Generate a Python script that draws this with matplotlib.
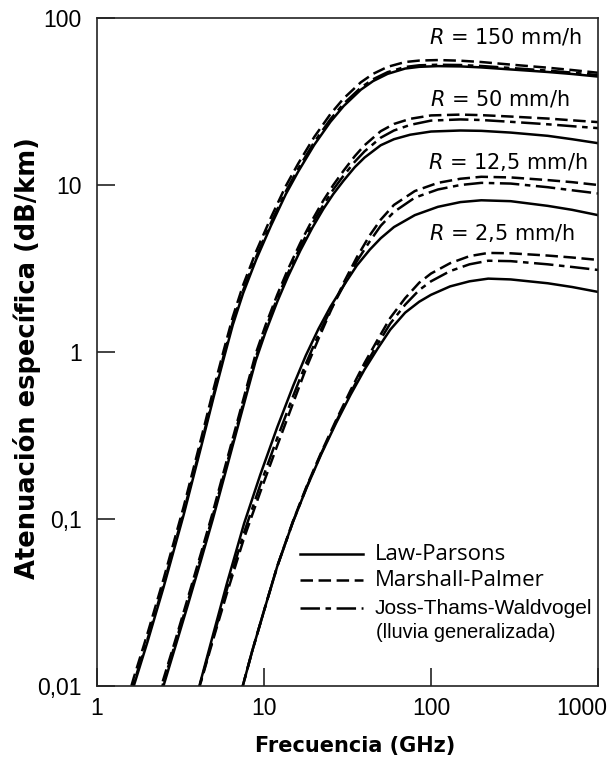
import matplotlib
matplotlib.use("Agg")
import matplotlib.pyplot as plt
from matplotlib.ticker import FixedLocator, FixedFormatter, NullLocator
from matplotlib.transforms import ScaledTranslation

plt.rcParams['lines.scale_dashes'] = False

# ---------------- data ----------------
rain_labels = ["150", "50", "12,5", "2,5"]

# R = 150 mm/h
f150 = [1.5, 1.66, 2, 2.5, 3.3, 4.2, 5.0, 5.75, 6.5, 7.5, 9, 11, 13.5, 16, 20, 25, 30, 38, 45, 55, 70, 85, 110, 150, 200, 300, 500, 700, 1000]
lp150 = [0.0070, 0.010, 0.0182, 0.0388, 0.1055, 0.270, 0.54, 0.92, 1.45, 2.25, 3.6, 5.7, 8.8, 12.0, 17.4, 23.9, 29.7, 37.2, 41.9, 46.3, 49.8, 51.0, 51.5, 51.3, 50.6, 49.2, 47.5, 46.2, 44.6]
mp150 = [0.0079, 0.0112, 0.0204, 0.0435, 0.118, 0.302, 0.605, 1.03, 1.62, 2.52, 4.03, 6.38, 9.85, 13.4, 19.4, 26.6, 33.0, 41.2, 46.3, 51.0, 54.5, 55.6, 56.0, 55.5, 54.5, 52.6, 50.4, 48.8, 47.0]
jtw150 = [0.0073, 0.0104, 0.0189, 0.0404, 0.110, 0.281, 0.56, 0.96, 1.51, 2.34, 3.74, 5.93, 9.15, 12.5, 18.1, 24.8, 30.7, 38.3, 43.0, 47.4, 50.9, 52.1, 52.5, 52.3, 51.6, 50.2, 48.4, 47.1, 45.5]

# R = 50 mm/h
f50 = [2.3, 2.5, 3, 3.5, 4.2, 4.94, 6, 7.2, 8.93, 10.2, 12, 13.9, 16.5, 19.5, 22.7, 26, 30, 35, 40, 50, 60, 75, 100, 150, 200, 300, 500, 700, 1000]
lp50 = [0.0076, 0.010, 0.0183, 0.0306, 0.0569, 0.100, 0.205, 0.403, 0.89, 1.31, 2.0, 2.82, 4.05, 5.56, 7.2, 8.83, 10.64, 12.8, 14.6, 17.3, 18.8, 20.0, 20.9, 21.2, 21.1, 20.6, 19.7, 18.8, 17.8]
mp50 = [0.0084, 0.011, 0.020, 0.0337, 0.0626, 0.110, 0.226, 0.443, 0.98, 1.44, 2.2, 3.12, 4.5, 6.2, 8.1, 10.0, 12.2, 14.9, 17.3, 21.0, 23.2, 24.9, 26.1, 26.4, 26.2, 25.7, 25.0, 24.4, 23.8]
jtw50 = [0.0080, 0.0105, 0.0192, 0.0321, 0.0597, 0.105, 0.215, 0.423, 0.93, 1.37, 2.1, 2.96, 4.27, 5.88, 7.6, 9.4, 11.4, 13.8, 15.9, 19.2, 21.2, 22.9, 24.3, 24.7, 24.5, 23.9, 23.1, 22.5, 21.9]

# R = 12,5 mm/h
f12 = [3.8, 4.1, 5, 6, 7.6, 9.5, 12, 15, 17.8, 21.2, 25, 30, 36, 43, 50, 60, 80, 110, 150, 200, 300, 500, 700, 1000]
lp12 = [0.0075, 0.010, 0.021, 0.0412, 0.094, 0.184, 0.354, 0.632, 0.953, 1.376, 1.867, 2.50, 3.3, 4.1, 4.8, 5.6, 6.6, 7.4, 7.9, 8.1, 8.0, 7.5, 7.1, 6.6]
mp12 = [0.0074, 0.0098, 0.0195, 0.036, 0.077, 0.145, 0.275, 0.50, 0.79, 1.2, 1.75, 2.6, 3.7, 5.0, 6.2, 7.6, 9.2, 10.3, 10.9, 11.2, 11.1, 10.7, 10.4, 10.0]
jtw12 = [0.0075, 0.0099, 0.020, 0.038, 0.083, 0.16, 0.305, 0.55, 0.85, 1.27, 1.78, 2.5, 3.5, 4.6, 5.7, 6.9, 8.4, 9.4, 10.0, 10.3, 10.2, 9.7, 9.3, 8.9]

# R = 2,5 mm/h
f2 = [7.0, 7.46, 8.5, 10, 12, 14.9, 18, 22, 27, 33, 40, 47.8, 57, 70, 85, 100, 130, 170, 220, 300, 500, 700, 1000]
lp2 = [0.0078, 0.010, 0.0162, 0.0282, 0.052, 0.096, 0.154, 0.244, 0.375, 0.555, 0.785, 1.044, 1.36, 1.72, 2.0, 2.2, 2.47, 2.65, 2.75, 2.72, 2.58, 2.45, 2.29]
mp2 = [0.0078, 0.010, 0.0162, 0.0282, 0.052, 0.097, 0.157, 0.25, 0.39, 0.59, 0.86, 1.18, 1.6, 2.1, 2.6, 2.95, 3.4, 3.75, 3.92, 3.9, 3.78, 3.68, 3.56]
jtw2 = [0.0078, 0.010, 0.0162, 0.0282, 0.052, 0.096, 0.155, 0.247, 0.382, 0.57, 0.82, 1.11, 1.48, 1.92, 2.35, 2.65, 3.05, 3.35, 3.52, 3.5, 3.35, 3.23, 3.1]

x_ticks = [1, 10, 100, 1000]
x_tick_labels = ["1", "10", "100", "1000"]
y_ticks = [0.01, 0.1, 1, 10, 100]
y_tick_labels = ["0,01", "0,1", "1", "10", "100"]

legend_labels = ["Law-Parsons", "Marshall-Palmer", "Joss-Thams-Waldvogel"]
legend_note = "(lluvia generalizada)"

# ---------------- styles ----------------
LW = 1.8
ls_lp = '-'
ls_mp = (0, (9, 4))
ls_jtw = (0, (14, 4, 4, 4))

W, H = 616, 757
fig = plt.figure(figsize=(W / 100, H / 100), dpi=100)
ax = fig.add_axes([97 / W, 1 - 686 / H, 501 / W, 668 / H])
ax.set_xscale('log')
ax.set_yscale('log')
ax.set_xlim(1, 1000)
ax.set_ylim(0.01, 100)

groups = [(f150, lp150, mp150, jtw150), (f50, lp50, mp50, jtw50),
          (f12, lp12, mp12, jtw12), (f2, lp2, mp2, jtw2)]
for f, lp, mp, jt in groups:
    ax.plot(f, lp, color='black', lw=LW, linestyle=ls_lp, solid_joinstyle='round')
    ax.plot(f, mp, color='black', lw=LW, linestyle=ls_mp, dash_capstyle='butt')
    ax.plot(f, jt, color='black', lw=LW, linestyle=ls_jtw, dash_capstyle='butt')

# ticks
ax.xaxis.set_major_locator(FixedLocator(x_ticks))
ax.xaxis.set_major_formatter(FixedFormatter(x_tick_labels))
ax.yaxis.set_major_locator(FixedLocator(y_ticks))
ax.yaxis.set_major_formatter(FixedFormatter(y_tick_labels))
ax.xaxis.set_minor_locator(NullLocator())
ax.yaxis.set_minor_locator(NullLocator())
ax.tick_params(which='major', direction='in', length=13, width=1.2, color='#222222')
ax.tick_params(axis='x', pad=8, labelsize=16.5)
ax.tick_params(axis='y', pad=11, labelsize=16.5)
for lab in ax.get_xticklabels() + ax.get_yticklabels():
    lab.set_fontfamily('Liberation Sans')
last = ax.get_xticklabels()[-1]
last.set_transform(last.get_transform() + ScaledTranslation(-0.16, 0, fig.dpi_scale_trans))
for sp in ax.spines.values():
    sp.set_linewidth(1.2)
    sp.set_color('#222222')

# axis labels
fig.text(355 / W, 1 - 746 / H, "Frecuencia (GHz)", ha='center', va='center',
         fontsize=15, fontweight='bold', family='DejaVu Sans')
fig.text(27 / W, 1 - 358 / H, "Atenuación específica (dB/km)", ha='center', va='center',
         rotation=90, fontsize=18.5, fontweight='bold', family='DejaVu Sans')

# rain-rate labels
label_pos = [(582, 37), (570, 99), (587, 162), (575, 233)]
for lab, (px, py) in zip(rain_labels, label_pos):
    ax.text((px - 97) / 501, (686 - py) / 668,
            r"$\it{R}$" + " = " + lab + " mm/h", transform=ax.transAxes,
            ha='right', va='center', fontsize=15, family='DejaVu Sans')

# legend (drawn manually)
rows = [554, 580, 608]
styles = [ls_lp, ls_mp, ls_jtw]
fams = ['Open Sans', 'Open Sans', 'Liberation Sans']
sizes = [16, 16, 15]
for lab, py, st, fam, fs in zip(legend_labels, rows, styles, fams, sizes):
    yy = (686 - py) / 668
    ax.plot([(300 - 97) / 501, (363 - 97) / 501], [yy, yy], transform=ax.transAxes,
            color='black', lw=LW, linestyle=st, dash_capstyle='butt')
    ax.text((375 - 97) / 501, yy, lab, transform=ax.transAxes, ha='left', va='center',
            fontsize=fs, family=fam)
ax.text((376 - 97) / 501, (686 - 633) / 668, legend_note, transform=ax.transAxes,
        ha='left', va='center', fontsize=14.4, family='Liberation Sans')

fig.savefig("out.png", dpi=100)
